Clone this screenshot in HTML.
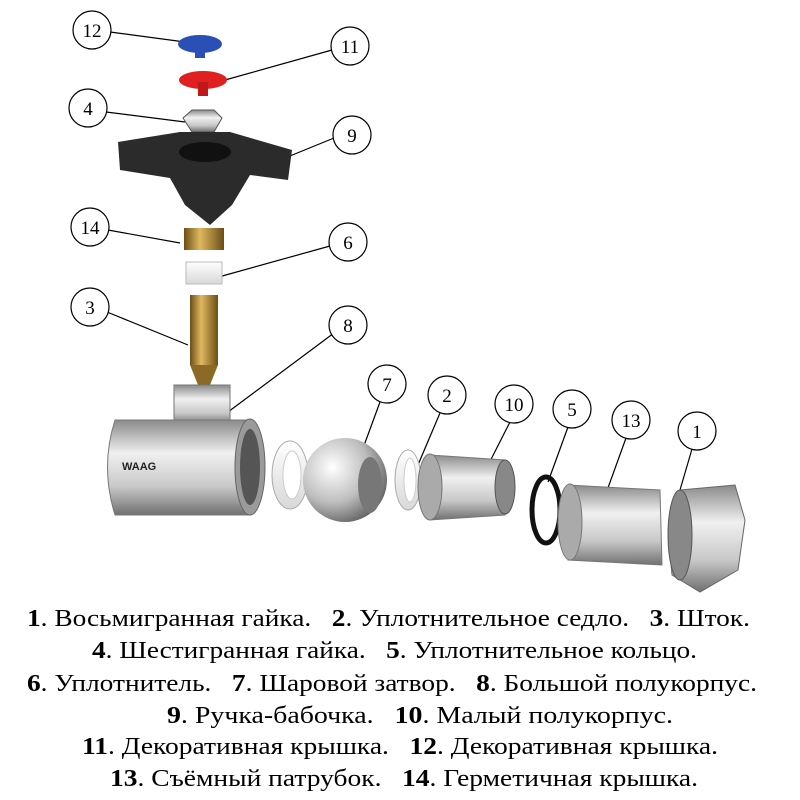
<!DOCTYPE html>
<html><head><meta charset="utf-8"><style>
html,body{margin:0;padding:0;background:#fff;}
svg{display:block}
.c{fill:#fff;stroke:#000;stroke-width:1.2}
.n{font-family:"Liberation Serif",serif;font-size:19px;text-anchor:middle}
.t text{font-family:"Liberation Serif",serif;font-size:24px;white-space:pre}
</style></head><body>
<svg width="800" height="800" viewBox="0 0 800 800">
<defs>
<linearGradient id="met" x1="0" y1="0" x2="0" y2="1"><stop offset="0" stop-color="#8a8a8a"/><stop offset=".35" stop-color="#f0f0f0"/><stop offset=".7" stop-color="#c8c8c8"/><stop offset="1" stop-color="#707070"/></linearGradient>
<linearGradient id="brass" x1="0" y1="0" x2="1" y2="0"><stop offset="0" stop-color="#6b4e15"/><stop offset=".4" stop-color="#e0b860"/><stop offset="1" stop-color="#6b4e15"/></linearGradient>
<radialGradient id="ball" cx=".35" cy=".35" r=".7"><stop offset="0" stop-color="#fff"/><stop offset=".6" stop-color="#bdbdbd"/><stop offset="1" stop-color="#666"/></radialGradient>
<linearGradient id="wh" x1="0" y1="0" x2="0" y2="1"><stop offset="0" stop-color="#fff"/><stop offset="1" stop-color="#d8d8d8"/></linearGradient>
</defs>
<g stroke="#000" stroke-width="1.2">
<line x1="110" y1="32" x2="185" y2="42"/>
<line x1="332" y1="50" x2="225" y2="80"/>
<line x1="106" y1="112" x2="185" y2="122"/>
<line x1="334" y1="138" x2="285" y2="158"/>
<line x1="108" y1="230" x2="180" y2="243"/>
<line x1="330" y1="246" x2="215" y2="278"/>
<line x1="107" y1="312" x2="188" y2="345"/>
<line x1="334" y1="333" x2="228" y2="412"/>
<line x1="380" y1="402" x2="355" y2="470"/>
<line x1="440" y1="413" x2="415" y2="472"/>
<line x1="510" y1="422" x2="478" y2="485"/>
<line x1="568" y1="427" x2="548" y2="482"/>
<line x1="626" y1="438" x2="600" y2="510"/>
<line x1="692" y1="449" x2="680" y2="490"/>
</g>
<ellipse cx="200" cy="44" rx="22" ry="9" fill="#2a4fb5"/><rect x="195" y="46" width="10" height="12" fill="#2a4fb5"/>
<ellipse cx="203" cy="80" rx="24" ry="9" fill="#e02020"/><rect x="198" y="82" width="10" height="14" fill="#c01818"/>
<polygon points="183,118 192,110 214,110 222,118 214,132 192,132" fill="url(#met)" stroke="#555"/>
<path d="M118,142 L180,132 L230,132 L292,150 L288,180 L250,175 L232,205 L210,225 L185,205 L170,178 L120,170 Z" fill="#2b2b2b"/>
<ellipse cx="205" cy="152" rx="26" ry="10" fill="#111"/>
<rect x="184" y="228" width="40" height="22" fill="url(#brass)"/>
<rect x="186" y="262" width="36" height="22" fill="url(#wh)" stroke="#bbb"/>
<rect x="190" y="295" width="28" height="70" fill="url(#brass)"/>
<polygon points="190,365 218,365 210,385 198,385" fill="#8a6a25"/>
<rect x="174" y="385" width="56" height="40" fill="url(#met)" stroke="#777"/>
<path d="M115,420 L250,420 L250,515 L115,515 Q100,467 115,420Z" fill="url(#met)" stroke="#777"/>
<ellipse cx="250" cy="467" rx="15" ry="48" fill="#9a9a9a" stroke="#666"/>
<ellipse cx="250" cy="467" rx="10" ry="38" fill="#555"/>
<text x="122" y="470" font-family="Liberation Sans" font-weight="bold" font-size="11" fill="#222">WAAG</text>
<ellipse cx="290" cy="475" rx="18" ry="34" fill="url(#wh)" stroke="#aaa"/>
<ellipse cx="292" cy="475" rx="9" ry="24" fill="#fff" stroke="#ccc"/>
<circle cx="345" cy="480" r="42" fill="url(#ball)"/>
<ellipse cx="370" cy="485" rx="12" ry="28" fill="#777"/>
<ellipse cx="408" cy="480" rx="13" ry="30" fill="url(#wh)" stroke="#aaa"/>
<ellipse cx="410" cy="480" rx="6" ry="22" fill="#fff" stroke="#ccc"/>
<path d="M430,455 L505,460 L505,515 L430,520 Z" fill="url(#met)" stroke="#777"/>
<ellipse cx="430" cy="487" rx="12" ry="33" fill="#aaa" stroke="#777"/>
<ellipse cx="505" cy="487" rx="10" ry="27" fill="#888" stroke="#555"/>
<ellipse cx="546" cy="510" rx="14" ry="33" fill="none" stroke="#111" stroke-width="5"/>
<path d="M568,485 L660,490 L662,565 L568,560 Z" fill="url(#met)" stroke="#777"/>
<ellipse cx="570" cy="522" rx="12" ry="38" fill="#aaa" stroke="#777"/>
<polygon points="680,490 735,485 745,520 738,570 700,592 672,575 668,530" fill="url(#met)" stroke="#666"/>
<ellipse cx="680" cy="535" rx="12" ry="45" fill="#888" stroke="#555"/>
<g>
<circle class="c" cx="92" cy="30" r="19"/><text class="n" x="92" y="37">12</text>
<circle class="c" cx="350" cy="46" r="19"/><text class="n" x="350" y="53">11</text>
<circle class="c" cx="88" cy="108" r="19"/><text class="n" x="88" y="115">4</text>
<circle class="c" cx="352" cy="135" r="19"/><text class="n" x="352" y="142">9</text>
<circle class="c" cx="90" cy="227" r="19"/><text class="n" x="90" y="234">14</text>
<circle class="c" cx="348" cy="242" r="19"/><text class="n" x="348" y="249">6</text>
<circle class="c" cx="90" cy="307" r="19"/><text class="n" x="90" y="314">3</text>
<circle class="c" cx="348" cy="325" r="19"/><text class="n" x="348" y="332">8</text>
<circle class="c" cx="387" cy="384" r="19"/><text class="n" x="387" y="391">7</text>
<circle class="c" cx="447" cy="395" r="19"/><text class="n" x="447" y="402">2</text>
<circle class="c" cx="514" cy="404" r="19"/><text class="n" x="514" y="411">10</text>
<circle class="c" cx="572" cy="409" r="19"/><text class="n" x="572" y="416">5</text>
<circle class="c" cx="631" cy="420" r="19"/><text class="n" x="631" y="427">13</text>
<circle class="c" cx="697" cy="431" r="19"/><text class="n" x="697" y="438">1</text>
</g>
<g class="t" xml:space="preserve">
<text x="27" y="626" textLength="723" lengthAdjust="spacingAndGlyphs"><tspan font-weight="bold">1</tspan>. Восьмигранная гайка.   <tspan font-weight="bold">2</tspan>. Уплотнительное седло.   <tspan font-weight="bold">3</tspan>. Шток.</text>
<text x="92" y="658" textLength="605" lengthAdjust="spacingAndGlyphs"><tspan font-weight="bold">4</tspan>. Шестигранная гайка.   <tspan font-weight="bold">5</tspan>. Уплотнительное кольцо.</text>
<text x="27" y="691" textLength="730" lengthAdjust="spacingAndGlyphs"><tspan font-weight="bold">6</tspan>. Уплотнитель.   <tspan font-weight="bold">7</tspan>. Шаровой затвор.   <tspan font-weight="bold">8</tspan>. Большой полукорпус.</text>
<text x="167" y="723" textLength="506" lengthAdjust="spacingAndGlyphs"><tspan font-weight="bold">9</tspan>. Ручка-бабочка.   <tspan font-weight="bold">10</tspan>. Малый полукорпус.</text>
<text x="82" y="754" textLength="636" lengthAdjust="spacingAndGlyphs"><tspan font-weight="bold">11</tspan>. Декоративная крышка.   <tspan font-weight="bold">12</tspan>. Декоративная крышка.</text>
<text x="110" y="786" textLength="588" lengthAdjust="spacingAndGlyphs"><tspan font-weight="bold">13</tspan>. Съёмный патрубок.   <tspan font-weight="bold">14</tspan>. Герметичная крышка.</text>
</g>
</svg>
</body></html>
